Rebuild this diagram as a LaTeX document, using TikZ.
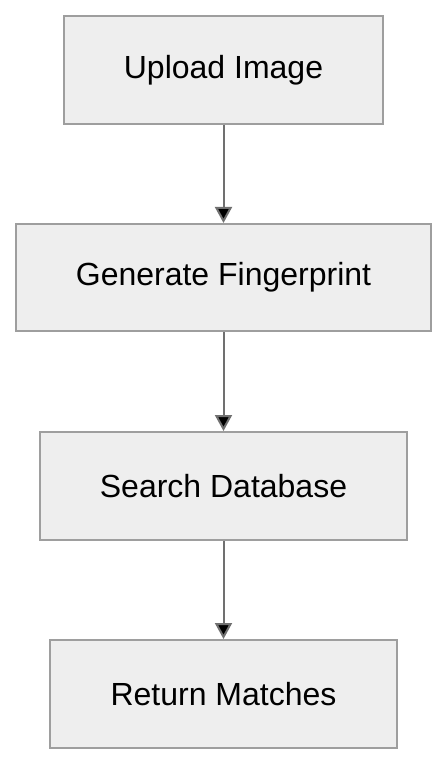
\documentclass[tikz,border=0pt]{standalone}
\usepackage{fontspec}
\setmainfont{Liberation Sans}
\usepackage{tikz}
\usetikzlibrary{arrows.meta}

\definecolor{boxfill}{HTML}{EEEEEE}
\definecolor{boxline}{HTML}{9E9E9E}
\definecolor{arrowline}{HTML}{707070}

\begin{document}
\begin{tikzpicture}[x=0.5pt,y=-0.5pt,
    step_node/.style={rectangle,draw=boxline,fill=boxfill,line width=1pt,inner sep=0pt,minimum height=54pt,font=\fontsize{16}{19}\selectfont},
    flow/.style={draw=arrowline,line width=1pt,-{Triangle[width=8.5pt,length=8pt]}}]

    \useasboundingbox (0,0) rectangle (448,764);

    \node[step_node,minimum width=159.5pt] (upload) at (223.5,70) {Upload Image};
    \node[step_node,minimum width=207.5pt,minimum height=53.5pt] (fingerprint) at (223.5,277.5) {Generate Fingerprint};
    \node[step_node,minimum width=183.5pt] (search) at (223.5,486) {Search Database};
    \node[step_node,minimum width=173.5pt] (matches) at (223.5,694) {Return Matches};

    \path[flow]
    (upload) edge (fingerprint)
    (fingerprint) edge (search)
    (search) edge (matches);
\end{tikzpicture}
\end{document}
